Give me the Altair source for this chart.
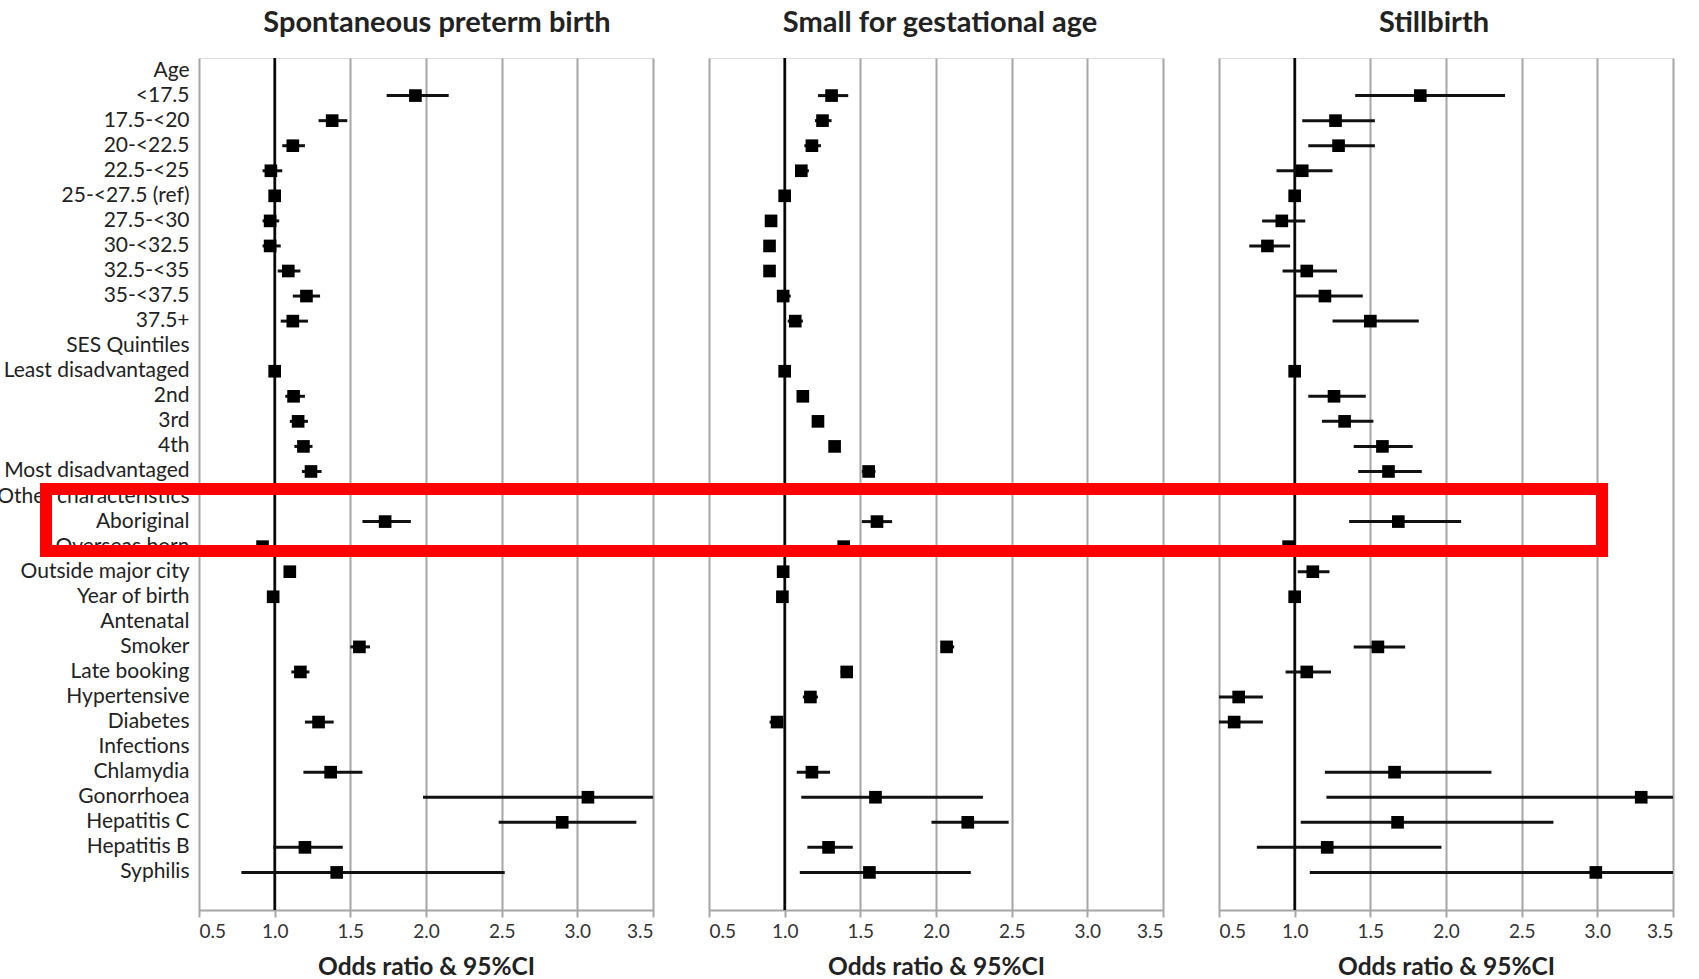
import altair as alt
import pandas as pd

rows = ["Age", "<17.5", "17.5-<20", "20-<22.5", "22.5-<25", "25-<27.5 (ref)", "27.5-<30",
        "30-<32.5", "32.5-<35", "35-<37.5", "37.5+", "SES Quintiles", "Least disadvantaged",
        "2nd", "3rd", "4th", "Most disadvantaged", "Other characteristics", "Aboriginal",
        "Overseas born", "Outside major city", "Year of birth", "Antenatal", "Smoker",
        "Late booking", "Hypertensive", "Diabetes", "Infections", "Chlamydia", "Gonorrhoea",
        "Hepatitis C", "Hepatitis B", "Syphilis"]
y_domain = rows + [""]

titles = ["Spontaneous preterm birth", "Small for gestational age", "Stillbirth"]
x_ticks = [0.5, 1.0, 1.5, 2.0, 2.5, 3.0, 3.5]
ref_value = [1.0]

spb_or = [None, 1.93, 1.38, 1.12, 0.975, 1.0, 0.97, 0.97, 1.09, 1.21, 1.12, None, 1.0, 1.125, 1.155,
          1.19, 1.24, None, 1.73, 0.92, 1.10, 0.99, None, 1.56, 1.17, None, 1.29, None, 1.37, 3.07,
          2.90, 1.20, 1.41]
spb_lo = [None, 1.74, 1.29, 1.05, 0.92, None, 0.92, 0.92, 1.02, 1.12, 1.04, None, None, 1.07, 1.10,
          1.13, 1.18, None, 1.58, 0.89, 1.07, None, None, 1.50, 1.11, None, 1.20, None, 1.19, 1.98,
          2.48, 0.99, 0.78]
spb_hi = [None, 2.15, 1.48, 1.20, 1.05, None, 1.03, 1.04, 1.17, 1.30, 1.22, None, None, 1.20, 1.22,
          1.25, 1.31, None, 1.90, 0.95, 1.13, None, None, 1.63, 1.23, None, 1.39, None, 1.58, 3.5,
          3.39, 1.45, 2.52]

sga_or = [None, 1.31, 1.25, 1.18, 1.11, 1.0, 0.91, 0.90, 0.90, 0.99, 1.07, None, 1.0, 1.12, 1.22,
          1.33, 1.555, None, 1.61, 1.39, 0.99, 0.985, None, 2.07, 1.41, 1.17, 0.95, None, 1.18, 1.60,
          2.21, 1.29, 1.56]
sga_lo = [None, 1.22, 1.20, 1.13, 1.07, None, None, None, None, 0.95, 1.02, None, None, None, None,
          None, 1.51, None, 1.51, 1.36, None, None, None, 2.03, 1.37, 1.12, 0.90, None, 1.08, 1.11,
          1.97, 1.15, 1.10]
sga_hi = [None, 1.42, 1.31, 1.24, 1.16, None, None, None, None, 1.04, 1.12, None, None, None, None,
          None, 1.60, None, 1.71, 1.42, None, None, None, 2.12, 1.45, 1.22, 0.99, None, 1.30, 2.31,
          2.48, 1.45, 2.23]

sb_or = [None, 1.83, 1.27, 1.29, 1.05, 1.0, 0.915, 0.82, 1.08, 1.20, 1.50, None, 1.0, 1.26, 1.33,
         1.58, 1.62, None, 1.685, 0.96, 1.12, 1.0, None, 1.55, 1.08, 0.63, 0.60, None, 1.66, 3.29,
         1.68, 1.215, 2.99]
sb_lo = [None, 1.40, 1.05, 1.09, 0.88, None, 0.785, 0.70, 0.92, 1.005, 1.25, None, None, 1.09, 1.18,
         1.39, 1.42, None, 1.36, 0.89, 1.02, None, None, 1.39, 0.94, 0.5, 0.5, None, 1.20, 1.21,
         1.04, 0.75, 1.10]
sb_hi = [None, 2.39, 1.53, 1.53, 1.25, None, 1.07, 0.97, 1.28, 1.45, 1.82, None, None, 1.47, 1.52,
         1.78, 1.84, None, 2.10, 1.04, 1.23, None, None, 1.73, 1.24, 0.79, 0.79, None, 2.30, 3.5,
         2.71, 1.97, 3.5]

FONT = "Lato"
GRID = "#a6a6a6"
W, H = 454, 852

x_scale = alt.Scale(domain=[0.5, 3.5], nice=False, zero=False)
y_scale = alt.Scale(domain=y_domain, type="band", paddingInner=0, paddingOuter=0)


def panel(title, o, lo, hi, show_labels, title_dx, extra=None):
    df = pd.DataFrame({"label": rows, "or": o, "lo": lo, "hi": hi})
    x_axis = alt.Axis(values=x_ticks, format=".1f", grid=True, gridColor=GRID, gridWidth=2,
                      domainColor=GRID, domainWidth=2, tickColor=GRID, tickSize=7, tickWidth=2,
                      labelFontSize=19, labelPadding=5, labelColor="#333", labelFont=FONT,
                      title="Odds ratio & 95%CI", titleFontSize=24.5, titleFont=FONT,
                      titleFontWeight="bold", titleColor="#222", titlePadding=14)
    if show_labels:
        y_axis = alt.Axis(title=None, domain=False, ticks=False, grid=False, labelFontSize=21,
                          labelFont=FONT, labelColor="#222", labelPadding=10, labelLimit=0)
    else:
        y_axis = None
    base = alt.Chart(df)
    ref = alt.Chart(pd.DataFrame({"ref": ref_value})).mark_rule(
        color="black", strokeWidth=2.5).encode(
        x=alt.X("ref:Q", scale=x_scale, axis=x_axis))
    ci = base.mark_rule(color="#111", strokeWidth=3).encode(
        x=alt.X("lo:Q", scale=x_scale, axis=x_axis),
        x2="hi:Q",
        y=alt.Y("label:N", scale=y_scale, axis=y_axis, sort=y_domain))
    pts = base.mark_square(size=160, color="black", opacity=1).encode(
        x=alt.X("or:Q", scale=x_scale, axis=x_axis),
        y=alt.Y("label:N", scale=y_scale, axis=y_axis, sort=y_domain))
    layers = [ref, ci, pts]
    if extra is not None:
        layers.append(extra)
    return alt.layer(*layers).properties(
        width=W, height=H,
        title=alt.TitleParams(title, fontSize=29, font=FONT, fontWeight="bold", color="#222",
                              anchor="middle", offset=19, dx=title_dx))


box = alt.Chart(pd.DataFrame({"box": [0]})).mark_rect(
    filled=False, stroke="#ff0000", strokeWidth=12).encode(
    x=alt.value(-1173), x2=alt.value(383), y=alt.value(431), y2=alt.value(493))

p1 = panel(titles[0], spb_or, spb_lo, spb_hi, True, 11)
p2 = panel(titles[1], sga_or, sga_lo, sga_hi, False, 4)
p3 = panel(titles[2], sb_or, sb_lo, sb_hi, False, -12, extra=box)

chart = alt.hconcat(p1, p2, p3, spacing=56, bounds="flush").properties(
    padding={"left": -5, "top": 8, "right": 5, "bottom": 0}
).configure_view(strokeWidth=0).configure(font=FONT)

chart.save("out.html", embed_options={"renderer": "svg", "actions": False})
